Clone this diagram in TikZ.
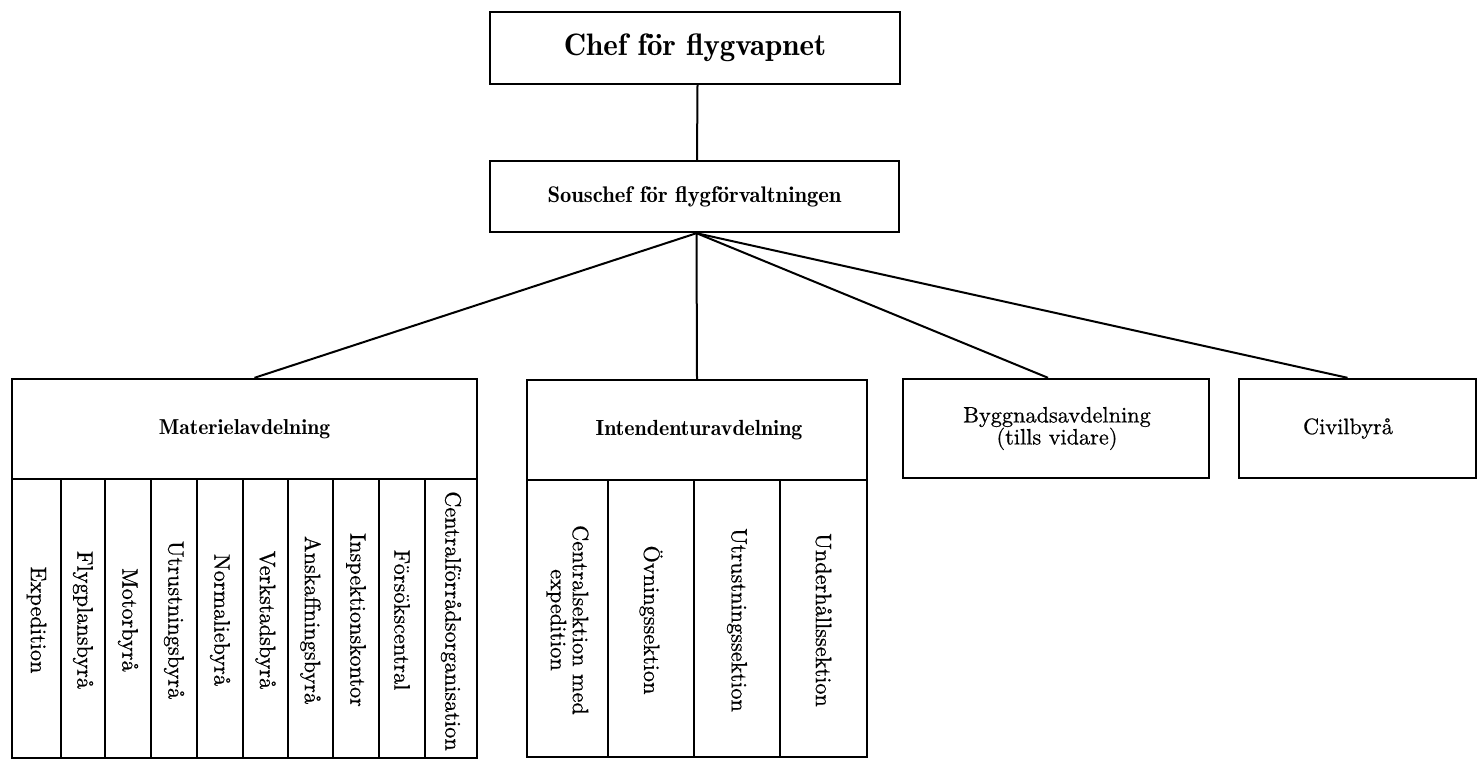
\documentclass[tikz,border=0pt]{standalone}
\usepackage{fontspec}
\newfontfamily\demi{lmromandemi10-regular.otf}
\newfontfamily\reg{lmroman10-regular.otf}[FakeBold=0.6]
\begin{document}
\begin{tikzpicture}[x=1pt,y=-1pt,
  box/.style={draw, line width=2.4pt, inner sep=0pt},
  txt/.style={font=\reg\fontsize{22.3}{22}\selectfont, align=center, inner sep=0pt},
  head/.style={align=center, inner sep=0pt},
  col/.style={txt, rotate=-90},
  conn/.style={line width=2pt},
  divl/.style={line width=2.2pt}]
\useasboundingbox (0,0) rectangle (1478,765);

% top boxes
\node[box, minimum width=410, minimum height=72] (chef) at (695,48) {};
\node[head, font=\demi\fontsize{31}{32}\selectfont] (chefT) at (695,48) {Chef för flygvapnet};
\node[box, minimum width=409, minimum height=71] (sous) at (694.5,196.5) {};
\node[head, font=\demi\fontsize{22.6}{24}\selectfont] (sousT) at (694.5,196.5) {Souschef för flygförvaltningen};

% Materielavdelning
\node[box, minimum width=465, minimum height=379] (mat) at (244.5,568.5) {};
\node[head, font=\demi\fontsize{21.6}{24}\selectfont] (matT) at (244.5,429) {Materielavdelning};
\draw[divl] (12,479) -- (477,479);
\foreach \x in {61,105,151,197,243,288,333,379,425}
  \draw[divl] (\x,479) -- (\x,758);
\node[col] (m1) at (36.5,620) {Expedition};
\node[col] (m2) at (83,620) {Flygplansbyrå};
\node[col] (m3) at (128,620) {Motorbyrå};
\node[col] (m4) at (174,620) {Utrustningsbyrå};
\node[col] (m5) at (220,620) {Normaliebyrå};
\node[col] (m6) at (265.5,620) {Verkstadsbyrå};
\node[col] (m7) at (310.5,620) {Anskaffningsbyrå};
\node[col] (m8) at (356,620) {Inspektionskontor};
\node[col] (m9) at (402,620) {Försökscentral};
\node[col] (m10) at (451,621) {Centralförrådsorganisation};

% Intendenturavdelning
\node[box, minimum width=340, minimum height=377] (int) at (697,568.5) {};
\node[head, font=\demi\fontsize{21.9}{24}\selectfont] (intT) at (699,430) {Intendenturavdelning};
\draw[divl] (527,480) -- (867,480);
\foreach \x in {608,694,780}
  \draw[divl] (\x,480) -- (\x,757);
\node[col] (i1) at (567.5,620) {Centralsektion med\\expedition};
\node[col] (i2) at (651,620) {Övningssektion};
\node[col] (i3) at (737,620) {Utrustningssektion};
\node[col] (i4) at (823.5,620) {Underhållssektion};

% right boxes
\node[box, minimum width=306, minimum height=99] (byg) at (1056,428.5) {};
\node[txt] (bygT) at (1057,428.5) {Byggnadsavdelning\\(tills vidare)};
\node[box, minimum width=237, minimum height=99] (civ) at (1357.5,428.5) {};
\node[txt] (civT) at (1348,428.5) {Civilbyrå};

% connectors
\draw[conn] ([xshift=2.5pt]chef.south) -- ([xshift=2.5pt]sous.north);
\coordinate (apex) at ([xshift=2pt]sous.south);
\draw[conn] (apex) -- ([xshift=10pt]mat.north);
\draw[conn] (apex) -- (int.north);
\draw[conn] (apex) -- ([xshift=-8pt]byg.north);
\draw[conn] (apex) -- ([xshift=-10pt]civ.north);
\end{tikzpicture}
\end{document}
